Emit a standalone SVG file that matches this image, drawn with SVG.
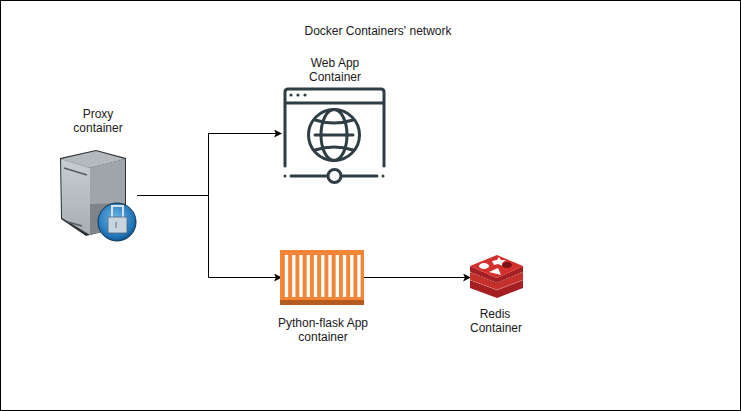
<svg xmlns="http://www.w3.org/2000/svg" width="741" height="411" viewBox="0 0 741 411">
<defs>
<style>
text{font-family:"Liberation Sans",Arial,sans-serif;font-size:12px;fill:#1a1a1a;text-anchor:middle}
.c{fill:none;stroke:#000;stroke-width:1}
.w{fill:none;stroke:#2f3d45;stroke-width:3;stroke-linecap:round}
</style>
<marker id="a" markerWidth="8" markerHeight="8" refX="7" refY="4" orient="auto" markerUnits="userSpaceOnUse"><path d="M0 0L8 4L0 8L2 4Z" fill="#000"/></marker>
<linearGradient id="s" x1="0" y1="0" x2="0" y2="1"><stop offset="0" stop-color="#c8cdd2"/><stop offset="1" stop-color="#a9aeb4"/></linearGradient>
<radialGradient id="g" cx=".45" cy=".4" r=".7"><stop offset="0" stop-color="#6db6e6"/><stop offset=".7" stop-color="#1f74b8"/><stop offset="1" stop-color="#0b3c66"/></radialGradient>
</defs>
<rect x="0.5" y="0.5" width="740" height="410" fill="#fff" stroke="#000"/>
<text x="378" y="35">Docker Containers' network</text>
<g id="connectors">
<path class="c" d="M137 195.500H208.500V133.500H281" marker-end="url(#a)"/>
<path class="c" d="M208.500 195.500V277.500H281" marker-end="url(#a)"/>
<path class="c" d="M364 277.500H470" marker-end="url(#a)"/>
</g>
<g id="proxy">
<text x="98" y="118">Proxy</text><text x="98" y="132">container</text>
<path d="M60 158L96 150L126 158V226L86 236L61 219Z" fill="#2b3034"/>
<path d="M61 159L96 151L125 159L90 168L61 159Z" fill="#b4b9be"/>
<path d="M61 159L90 168V235L62 218Z" fill="url(#s)"/>
<path d="M90 168L125 159V226L90 235Z" fill="#7f848a"/>
<path d="M90 168L125 159V203L90 204Z" fill="#a0a5ab"/>
<path d="M64 168L87 175M68 222L82 226" stroke="#555b61" stroke-width="1.500" fill="none"/>
<circle cx="117" cy="222" r="19" fill="url(#g)" stroke="#0b2f4f" stroke-width="1"/>
<path d="M112 219V206H123V219" fill="none" stroke="#d8e2ea" stroke-width="2"/>
<rect x="108" y="217" width="19" height="16" rx="1" fill="#c9d5de" stroke="#49667c" stroke-width=".8"/>
<path d="M116 222V228" stroke="#5c7385" stroke-width="1"/>
</g>
<g id="webapp">
<text x="335" y="67">Web App</text><text x="335" y="81">Container</text>
<path class="w" d="M285 166V92Q285 89 288 89H381Q384 89 384 92V166M285 103H384"/>
<circle cx="291" cy="95" r="1.600" fill="#2f3d45"/><circle cx="298" cy="95" r="1.600" fill="#2f3d45"/><circle cx="305" cy="95" r="1.600" fill="#2f3d45"/>
<circle cx="334" cy="135" r="25.500" class="w"/>
<ellipse cx="334" cy="135" rx="13" ry="25.500" class="w"/>
<path class="w" d="M315 120Q334 126 353 120M315 150Q334 144 353 150M315 135H353"/>
<circle cx="334.500" cy="176" r="6.500" fill="#fff" stroke="#2f3d45" stroke-width="3"/>
<path class="w" d="M291 176H327M342 176H377"/>
<circle cx="285" cy="176" r="1.500" fill="#2f3d45"/><circle cx="383" cy="176" r="1.500" fill="#2f3d45"/>
</g>
<g id="flask">
<rect x="280" y="250" width="84" height="55" fill="#f58536"/>
<rect x="280" y="300" width="84" height="5" fill="#b65b20"/>
<path d="M286.500 255V297M293.800 255V297M301 255V297M308.300 255V297M315.500 255V297M322.800 255V297M330 255V297M337.300 255V297M344.500 255V297M351.800 255V297M359 255V297" stroke="#fff" stroke-width="3.300" fill="none"/>
<text x="323" y="327">Python-flask App</text><text x="323" y="341">container</text>
</g>
<g id="redis">
<path d="M470 280V288L497 298L523 288V280L497 290Z" fill="#a41e22"/>
<path d="M470 272V280L497 290L523 280V272L497 282Z" fill="#c6302b"/>
<path d="M470 266V272L497 284L523 272V266L497 278Z" fill="#a41e22"/>
<path d="M470 280L497 290L523 280" fill="none" stroke="#e9a6a3" stroke-width=".6" stroke-dasharray="2 1"/>
<path d="M470 272L497 283L523 272" fill="none" stroke="#e9a6a3" stroke-width=".6" stroke-dasharray="2 1"/>
<path d="M470 266L497 255L523 266L497 278Z" fill="#d3302d"/>
<ellipse cx="484" cy="266" rx="5" ry="3" fill="#fff"/>
<path d="M492 261L497 260L499 257L501 260L506 260L502 263L503 266L498 264L494 265Z" fill="#fff"/>
<path d="M489 272L498 268L501 275Z" fill="#fff"/>
<ellipse cx="507" cy="265" rx="5" ry="3" fill="#7a1316"/>
<text x="495" y="318">Redis</text><text x="496" y="332">Container</text>
</g>
</svg>
